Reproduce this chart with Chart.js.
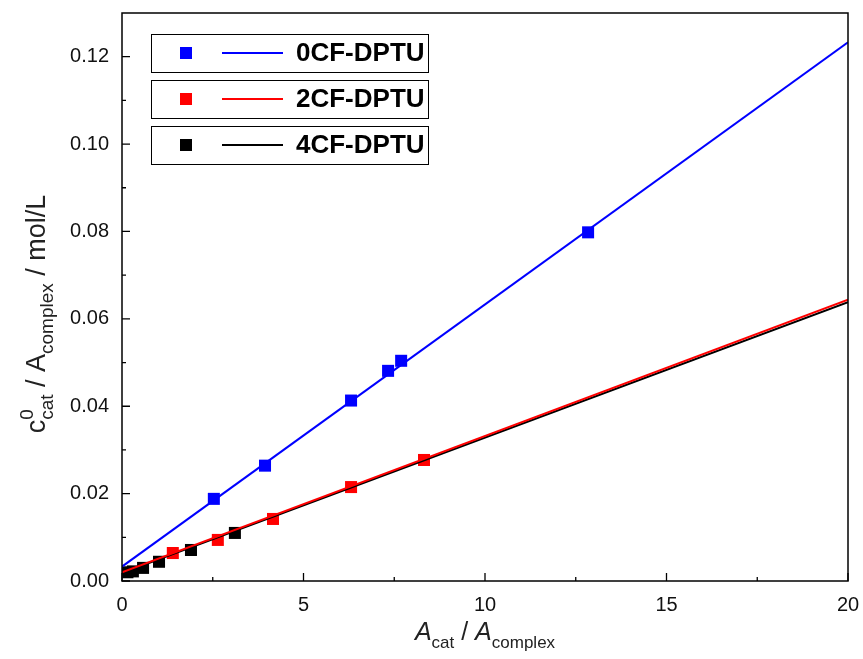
<!DOCTYPE html>
<html>
<head>
<meta charset="utf-8">
<script src="https://cdn.jsdelivr.net/npm/chart.js@4.4.1/dist/chart.umd.min.js"></script>
<style>
  html, body { margin: 0; padding: 0; background: #fff; }
  #wrap { width: 863px; height: 659px; }
</style>
</head>
<body>
<div id="wrap"><canvas id="myChart" width="863" height="659"></canvas></div>
<script>
// measured points
const blueX = [2.53, 3.94, 6.31, 7.33, 7.69, 12.84]
const blueY = [0.0188, 0.0264, 0.0413, 0.0481, 0.0504, 0.0798]
const redX = [1.40, 2.64, 4.16, 6.31, 8.32]
const redY = [0.0064, 0.0094, 0.0142, 0.0215, 0.0277]
const blackX = [0.15, 0.30, 0.58, 1.02, 1.90, 3.11]
const blackY = [0.0020, 0.0022, 0.0030, 0.0044, 0.0071, 0.0110]

// linear fits (ends read at x = 0 and x = 20)
const fitX = [0, 20]
const fitBlue = [0.0033, 0.1233]
const fitRed = [0.0020, 0.0644]
const fitBlack = [0.0018, 0.0638]

const labels = ["0CF-DPTU", "2CF-DPTU", "4CF-DPTU"]
const colors = ["#0000ff", "#ff0000", "#000000"]

const ctx = document.querySelector("#myChart")

function pts(xs, ys) {
    return xs.map((x, i) => ({ x: x, y: ys[i] }))
}

function pointSet(xs, ys, color) {
    return {
        type: "scatter",
        data: pts(xs, ys),
        pointStyle: "rect",
        pointRadius: 8.5,
        pointHoverRadius: 8.5,
        backgroundColor: color,
        borderWidth: 0,
        showLine: false,
        order: 2
    }
}

function fitSet(ys, color) {
    return {
        type: "line",
        data: pts(fitX, ys),
        borderColor: color,
        borderWidth: 2,
        pointRadius: 0,
        fill: false,
        order: 1
    }
}

// draws text pieces with italic / sub / sup; "stack" puts a piece under the previous one
function richText(c, parts, x, y, big, small) {
    const fontOf = p => (p.italic ? "italic " : "") + (p.sub || p.sup ? small : big) + "px 'Liberation Sans', Arial, sans-serif"
    let w = 0, lastW = 0
    parts.forEach(p => {
        c.font = fontOf(p)
        p.w = c.measureText(p.t).width
        if (p.stack) { w += Math.max(0, p.w - lastW) } else { w += p.w; lastW = p.w }
    })
    let cx = x - w / 2
    let start = cx
    lastW = 0
    parts.forEach(p => {
        c.font = fontOf(p)
        let dy = 0
        if (p.sub) dy = big * 0.3
        if (p.sup) dy = -big * 0.45
        if (p.stack) {
            c.fillText(p.t, start, y + dy)
            cx = start + Math.max(lastW, p.w)
        } else {
            start = cx
            c.fillText(p.t, cx, y + dy)
            cx += p.w
            lastW = p.w
        }
    })
}

const framePlugin = {
    id: "frame",
    afterDraw(chart) {
        const c = chart.ctx
        const a = chart.chartArea
        c.save()
        c.strokeStyle = "#000"
        c.lineWidth = 1.5
        c.strokeRect(a.left, a.top, a.right - a.left, a.bottom - a.top)

        // inward ticks
        c.lineWidth = 1.3
        const xs = chart.scales.x, ys = chart.scales.y
        const xt = xs.ticks.map(t => t.value)
        const yt = ys.ticks.map(t => t.value)
        c.beginPath()
        xt.forEach((v, i) => {
            const px = xs.getPixelForValue(v)
            c.moveTo(px, a.bottom); c.lineTo(px, a.bottom - 8)
            if (i < xt.length - 1) {
                const m = xs.getPixelForValue((v + xt[i + 1]) / 2)
                c.moveTo(m, a.bottom); c.lineTo(m, a.bottom - 4)
            }
        })
        yt.forEach((v, i) => {
            const py = ys.getPixelForValue(v)
            c.moveTo(a.left, py); c.lineTo(a.left + 8, py)
            if (i < yt.length - 1) {
                const m = ys.getPixelForValue((v + yt[i + 1]) / 2)
                c.moveTo(a.left, m); c.lineTo(a.left + 4, m)
            }
        })
        c.stroke()

        // legend boxes
        const boxL = 151, boxR = 428, boxH = 38, tops = [34, 80, 126]
        labels.forEach((lab, i) => {
            const t = tops[i]
            const cy = t + boxH / 2
            c.lineWidth = 1
            c.strokeStyle = "#000"
            c.strokeRect(boxL + 0.5, t + 0.5, boxR - boxL, boxH)
            c.fillStyle = colors[i]
            c.fillRect(180, cy - 6, 12, 12)
            c.strokeStyle = colors[i]
            c.lineWidth = 2
            c.beginPath(); c.moveTo(222, cy); c.lineTo(283, cy); c.stroke()
            c.fillStyle = "#000"
            c.font = "bold 26px 'Liberation Sans', Arial, sans-serif"
            c.textBaseline = "middle"
            c.fillText(lab, 296, cy + 1)
        })

        // axis titles
        c.fillStyle = "#222"
        c.textBaseline = "alphabetic"
        richText(c, [
            { t: "A", italic: true }, { t: "cat", sub: true }, { t: " / " },
            { t: "A", italic: true }, { t: "complex", sub: true }
        ], (a.left + a.right) / 2, 640, 25, 17)

        c.translate(45, (a.top + a.bottom) / 2 + 17)
        c.rotate(-Math.PI / 2)
        richText(c, [
            { t: "c" }, { t: "0", sup: true }, { t: "cat", sub: true, stack: true }, { t: " / " },
            { t: "A" }, { t: "complex", sub: true }, { t: " / mol/L" }
        ], 0, 0, 27, 19)
        c.restore()
    }
}

const chart = new Chart(ctx, {
    data: {
        datasets: [
            pointSet(blueX, blueY, colors[0]),
            pointSet(redX, redY, colors[1]),
            pointSet(blackX, blackY, colors[2]),
            fitSet(fitBlue, colors[0]),
            fitSet(fitRed, colors[1]),
            fitSet(fitBlack, colors[2])
        ]
    },
    options: {
        responsive: false,
        animation: false,
        layout: { padding: { top: 13, right: 15, left: 0, bottom: 0 } },
        plugins: { legend: { display: false }, tooltip: { enabled: false } },
        scales: {
            x: {
                type: "linear",
                min: 0, max: 20,
                grid: { display: false, drawTicks: false },
                border: { display: false },
                ticks: {
                    stepSize: 5,
                    padding: 12,
                    color: "#111",
                    font: { family: "'Liberation Sans', Arial", size: 20 }
                },
                afterFit: s => { s.height = 78; s.paddingLeft = 0; s.paddingRight = 0 }
            },
            y: {
                type: "linear",
                min: 0, max: 0.13,
                grid: { display: false, drawTicks: false },
                border: { display: false },
                ticks: {
                    stepSize: 0.02,
                    includeBounds: false,
                    padding: 13,
                    color: "#111",
                    font: { family: "'Liberation Sans', Arial", size: 20 },
                    callback: v => v.toFixed(2)
                },
                afterFit: s => { s.width = 122; s.paddingTop = 0; s.paddingBottom = 0 }
            }
        }
    },
    plugins: [framePlugin]
})
</script>
</body>
</html>
